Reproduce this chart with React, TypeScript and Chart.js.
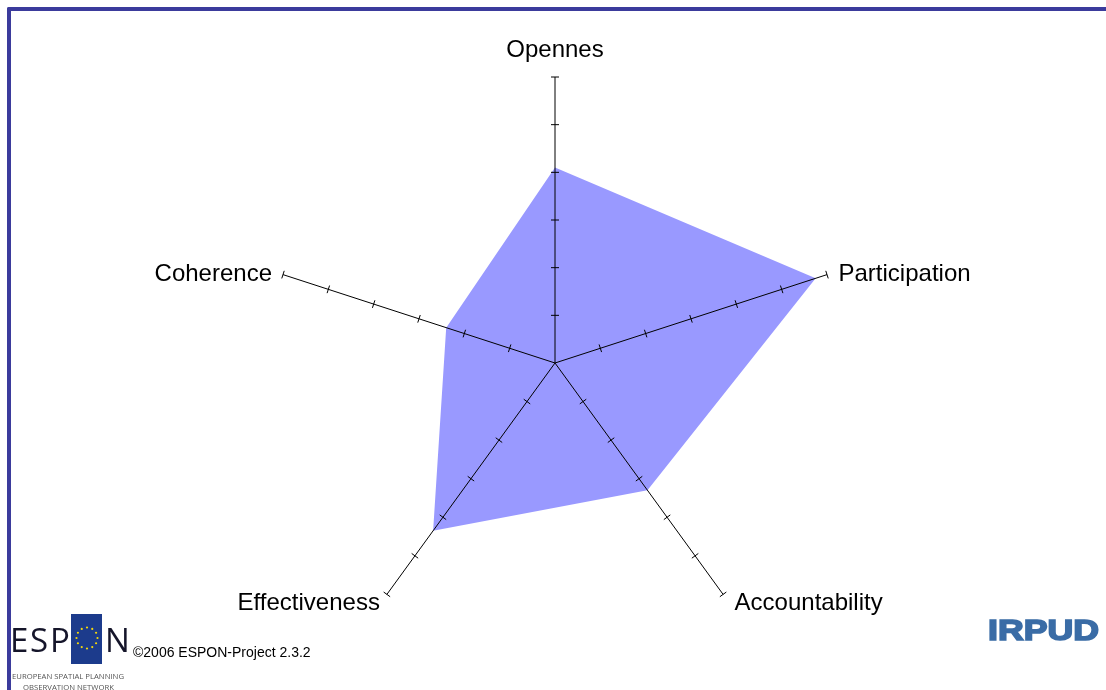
import React, { useEffect, useRef } from "react";
import { Chart, registerables } from "chart.js";

Chart.register(...registerables);

const categories = ["Opennes", "Participation", "Accountability", "Effectiveness", "Coherence"];
const scores = [4.1, 5.75, 3.3, 4.35, 2.4];
const tickValues = [1, 2, 3, 4, 5, 6];
const scaleMin = 0;
const scaleMax = 6;

const LABEL_FONT = '24px "Liberation Sans", Arial, sans-serif';

const axesPlugin = {
  id: "radarAxes",
  afterDatasetsDraw(chart: any) {
    const s = chart.scales.r;
    const ctx = chart.ctx as CanvasRenderingContext2D;
    const n = chart.data.labels.length;
    ctx.save();
    ctx.strokeStyle = "#000000";
    ctx.lineWidth = 1;
    for (let i = 0; i < n; i++) {
      const end = s.getPointPosition(i, s.drawingArea);
      ctx.beginPath();
      ctx.moveTo(s.xCenter, s.yCenter);
      ctx.lineTo(end.x, end.y);
      ctx.stroke();
      const a = end.angle;
      const px = -Math.sin(a);
      const py = Math.cos(a);
      for (const v of tickValues) {
        const p = s.getPointPosition(i, s.getDistanceFromCenterForValue(v));
        ctx.beginPath();
        ctx.moveTo(p.x - 4 * px, p.y - 4 * py);
        ctx.lineTo(p.x + 4 * px, p.y + 4 * py);
        ctx.stroke();
      }
    }
    ctx.fillStyle = "#000000";
    ctx.font = LABEL_FONT;
    for (let i = 0; i < n; i++) {
      const end = s.getPointPosition(i, s.drawingArea);
      const c = Math.cos(end.angle);
      const sn = Math.sin(end.angle);
      const label = chart.data.labels[i];
      if (Math.abs(c) < 0.1) {
        ctx.textAlign = "center";
        ctx.textBaseline = "alphabetic";
        ctx.fillText(label, end.x, end.y - 20);
      } else {
        ctx.textAlign = c > 0 ? "left" : "right";
        ctx.textBaseline = "middle";
        const lower = sn > 0.5;
        const dx = c > 0 ? 11.5 : lower ? -7 : -11;
        const dy = lower ? 9 : 0;
        ctx.fillText(label, end.x + dx, end.y + dy);
      }
    }
    ctx.restore();
  },
};

function EsponLogo() {
  const stars = [];
  for (let k = 0; k < 12; k++) {
    const a = (k / 12) * Math.PI * 2;
    stars.push(
      <circle key={k} cx={87 + 10.5 * Math.cos(a)} cy={638 + 10.5 * Math.sin(a)} r={1.1} fill="#f5d90a" />
    );
  }
  return (
    <svg width={1106} height={690} style={{ position: "absolute", left: 0, top: 0, pointerEvents: "none" }}>
      <g fontFamily='"Open Sans", "DejaVu Sans", sans-serif' fontWeight={400} fontSize={33} fill="#15152a">
        <text x={10} y={652}>E</text>
        <text x={30} y={652}>S</text>
        <text x={50} y={652}>P</text>
        <text x={105} y={652}>N</text>
      </g>
      <rect x={71} y={614} width={31} height={50} fill="#1c3b8c" />
      {stars}
      <g fontFamily='"Open Sans", "DejaVu Sans", sans-serif' fontSize={8} fill="#555555">
        <text x={12} y={679} textLength={112} lengthAdjust="spacingAndGlyphs">EUROPEAN SPATIAL PLANNING</text>
        <text x={23} y={690} textLength={91} lengthAdjust="spacingAndGlyphs">OBSERVATION NETWORK</text>
      </g>
      <text x={133} y={657} fontFamily='"Liberation Sans", Arial, sans-serif' fontSize={14} fill="#000000">
        ©2006 ESPON-Project 2.3.2
      </text>
      <text
        x={988}
        y={640}
        fontFamily='"Liberation Sans", Arial, sans-serif'
        fontWeight={900}
        fontSize={29}
        fill="#3a6ca6"
        stroke="#3a6ca6"
        strokeWidth={1.6}
        textLength={111}
        lengthAdjust="spacingAndGlyphs"
      >
        IRPUD
      </text>
    </svg>
  );
}

export default function App() {
  const canvasRef = useRef<HTMLCanvasElement | null>(null);

  useEffect(() => {
    if (!canvasRef.current) return;
    const chart = new Chart(canvasRef.current, {
      type: "radar",
      data: {
        labels: categories,
        datasets: [
          {
            data: scores,
            backgroundColor: "#9999ff",
            borderWidth: 0,
            pointRadius: 0,
            pointHoverRadius: 0,
            fill: true,
          },
        ],
      },
      options: {
        responsive: false,
        animation: false,
        plugins: { legend: { display: false }, tooltip: { enabled: false } },
        elements: { line: { tension: 0 } },
        scales: {
          r: {
            min: scaleMin,
            max: scaleMax,
            ticks: { display: false, stepSize: 1 },
            grid: { display: false },
            angleLines: { display: false },
            pointLabels: { display: false },
            afterFit: (scale: any) => {
              scale.xCenter = 555;
              scale.yCenter = 363;
              scale.drawingArea = 286;
            },
          },
        },
      },
      plugins: [axesPlugin],
    } as any);
    return () => chart.destroy();
  }, []);

  return (
    <div style={{ position: "fixed", left: 0, top: 0, width: 1106, height: 690, background: "#ffffff", overflow: "hidden" }}>
      <div
        style={{
          position: "absolute",
          left: 7,
          top: 7,
          right: -10,
          bottom: -10,
          borderLeft: "4px solid #3b3b9c",
          borderTop: "4px solid #3b3b9c",
          borderTopLeftRadius: 2,
        }}
      />
      <canvas ref={canvasRef} width={1106} height={690} style={{ position: "absolute", left: 0, top: 0 }} />
      <EsponLogo />
    </div>
  );
}
